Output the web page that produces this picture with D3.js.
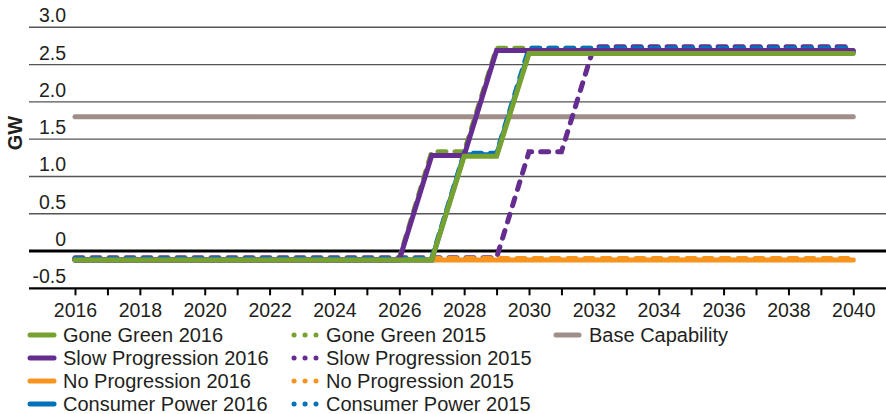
<!DOCTYPE html>
<html><head><meta charset="utf-8">
<script src="https://cdn.jsdelivr.net/npm/d3@7"></script>
<style>
html,body{margin:0;padding:0;background:#fff;}
svg text{font-family:"Liberation Sans",Arial,Helvetica,sans-serif;fill:#231f20;}
</style></head>
<body>
<svg id="chart" width="886" height="414"></svg>
<script>
const years = d3.range(2016, 2041);
const yTicks = [3.0, 2.5, 2.0, 1.5, 1.0, 0.5, 0, -0.5];
const yTickLabels = ["3.0", "2.5", "2.0", "1.5", "1.0", "0.5", "0", "-0.5"];
const xTickLabels = [2016, 2018, 2020, 2022, 2024, 2026, 2028, 2030, 2032, 2034, 2036, 2038, 2040];

// values per year 2016..2040
const goneGreen2016       = [-0.12,-0.12,-0.12,-0.12,-0.12,-0.12,-0.12,-0.12,-0.12,-0.12,-0.12,-0.12,1.27,1.27,2.65,2.65,2.65,2.65,2.65,2.65,2.65,2.65,2.65,2.65,2.65];
const slowProgression2016 = [-0.12,-0.12,-0.12,-0.12,-0.12,-0.12,-0.12,-0.12,-0.12,-0.12,-0.12,1.28,1.28,2.69,2.69,2.69,2.69,2.69,2.69,2.69,2.69,2.69,2.69,2.69,2.69];
const noProgression2016   = [-0.12,-0.12,-0.12,-0.12,-0.12,-0.12,-0.12,-0.12,-0.12,-0.12,-0.12,-0.12,-0.12,-0.12,-0.12,-0.12,-0.12,-0.12,-0.12,-0.12,-0.12,-0.12,-0.12,-0.12,-0.12];
const consumerPower2016   = [-0.12,-0.12,-0.12,-0.12,-0.12,-0.12,-0.12,-0.12,-0.12,-0.12,-0.12,-0.12,1.29,1.29,2.67,2.67,2.67,2.67,2.67,2.67,2.67,2.67,2.67,2.67,2.67];
const goneGreen2015       = [-0.10,-0.10,-0.10,-0.10,-0.10,-0.10,-0.10,-0.10,-0.10,-0.10,-0.10,1.33,1.33,2.72,2.72,2.72,2.72,2.72,2.72,2.72,2.72,2.72,2.72,2.72,2.72];
const slowProgression2015 = [-0.09,-0.09,-0.09,-0.09,-0.09,-0.09,-0.09,-0.09,-0.09,-0.09,-0.09,-0.09,-0.09,-0.09,1.33,1.33,2.74,2.74,2.74,2.74,2.74,2.74,2.74,2.74,2.74];
const noProgression2015   = [-0.10,-0.10,-0.10,-0.10,-0.10,-0.10,-0.10,-0.10,-0.10,-0.10,-0.10,-0.10,-0.10,-0.10,-0.10,-0.10,-0.10,-0.10,-0.10,-0.10,-0.10,-0.10,-0.10,-0.10,-0.10];
const consumerPower2015   = [-0.10,-0.10,-0.10,-0.10,-0.10,-0.10,-0.10,-0.10,-0.10,-0.10,-0.10,-0.10,1.31,1.31,2.72,2.72,2.72,2.72,2.72,2.72,2.72,2.72,2.72,2.72,2.72];
const baseCapability      = [1.80,1.80,1.80,1.80,1.80,1.80,1.80,1.80,1.80,1.80,1.80,1.80,1.80,1.80,1.80,1.80,1.80,1.80,1.80,1.80,1.80,1.80,1.80,1.80,1.80];

const C = {green:"#78a22f", purple:"#662d91", orange:"#f7941d", blue:"#0072bc", base:"#a08f89"};

const series = [
  {name:"Gone Green 2016", values:goneGreen2016, color:C.green, dashed:false},
  {name:"Slow Progression 2016", values:slowProgression2016, color:C.purple, dashed:false},
  {name:"No Progression 2016", values:noProgression2016, color:C.orange, dashed:false},
  {name:"Consumer Power 2016", values:consumerPower2016, color:C.blue, dashed:false},
  {name:"Gone Green 2015", values:goneGreen2015, color:C.green, dashed:true},
  {name:"Slow Progression 2015", values:slowProgression2015, color:C.purple, dashed:true},
  {name:"No Progression 2015", values:noProgression2015, color:C.orange, dashed:true},
  {name:"Consumer Power 2015", values:consumerPower2015, color:C.blue, dashed:true},
  {name:"Base Capability", values:baseCapability, color:C.base, dashed:false}
];

const svg = d3.select("#chart");
const x = d3.scaleLinear().domain([2016, 2040]).range([75, 853.3]);
const y = d3.scaleLinear().domain([-0.5, 3.0]).range([288.3, 27.3]);

// gridlines
const grid = svg.append("g");
yTicks.forEach((t, i) => {
  if (t === -0.5) return;
  grid.append("line").attr("x1", 29).attr("x2", 886)
    .attr("y1", y(t)).attr("y2", y(t))
    .attr("stroke", t === 0 ? "#000" : "#555")
    .attr("stroke-width", t === 0 ? 3 : 1.4);
});
// y labels
yTicks.forEach((t, i) => {
  svg.append("text").attr("x", 66).attr("y", y(t) - 5)
    .attr("text-anchor", "end").attr("font-size", 19.5).text(yTickLabels[i]);
});

// x axis
const xAxis = d3.axisBottom(x).tickValues(years).tickSize(7).tickFormat(d => xTickLabels.includes(d) ? d : "");
const gx = svg.append("g").attr("transform", `translate(0,${y(-0.5)})`).call(xAxis);
gx.select(".domain").remove();
gx.selectAll(".tick line").attr("stroke", "#000").attr("stroke-width", 2);
gx.selectAll(".tick text").attr("font-size", 19.5).attr("font-family", "Liberation Sans, Arial, sans-serif")
  .attr("fill", "#231f20").attr("dy", 0).attr("y", 28.5);
svg.append("line").attr("x1", 29).attr("x2", 886).attr("y1", y(-0.5)).attr("y2", y(-0.5))
  .attr("stroke", "#000").attr("stroke-width", 2.3);

// GW label
svg.append("text").attr("transform", `translate(22,133) rotate(-90)`)
  .attr("text-anchor", "middle").attr("font-size", 20).attr("font-weight", "bold").text("GW");

// lines
const line = d3.line().x((d, i) => x(years[i])).y(d => y(d));
const drawOrder = [8, 4, 5, 6, 7, 2, 3, 1, 0];
drawOrder.forEach(k => {
  const s = series[k];
  const p = svg.append("path").attr("d", line(s.values))
    .attr("fill", "none").attr("stroke", s.color).attr("stroke-width", 5)
    .attr("stroke-linejoin", "miter").attr("stroke-linecap", "round");
  if (s.dashed) p.attr("stroke-dasharray", "8 9");
});

// legend
const legendCols = [
  {sx1:30, sx2:54, tx:63},
  {sx1:294, sx2:316, tx:326},
  {sx1:556, sx2:579, tx:589}
];
const legendRows = [335, 358, 381, 404];
const legendLayout = [[0,0],[1,0],[2,0],[3,0],[0,1],[1,1],[2,1],[3,1],[0,2]];
series.forEach((s, k) => {
  const [r, c] = legendLayout[k];
  const col = legendCols[c], ly = legendRows[r];
  const g = svg.append("g");
  const l = g.append("line").attr("x1", col.sx1).attr("x2", col.sx2).attr("y1", ly).attr("y2", ly)
    .attr("stroke", s.color).attr("stroke-width", 5).attr("stroke-linecap", "round");
  if (s.dashed) l.attr("stroke-dasharray", "0.1 10.9");
  g.append("text").attr("x", col.tx).attr("y", ly + 7).attr("font-size", 20).text(s.name);
});
</script>
</body></html>
